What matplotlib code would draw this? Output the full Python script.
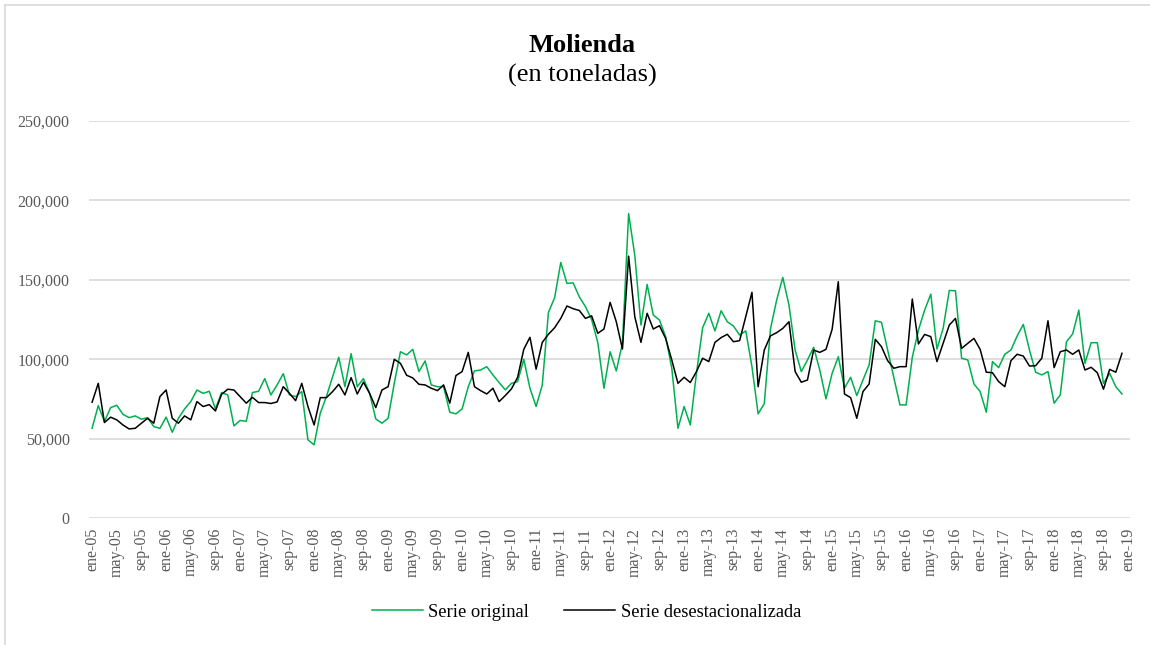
"""
Molienda (en toneladas): serie original vs. serie desestacionalizada,
datos mensuales ene-05 a dic-18.
"""

import numpy as np
import matplotlib.pyplot as plt
from matplotlib.lines import Line2D

plt.rcParams["font.family"] = ["Liberation Serif", "DejaVu Serif"]

# monthly values, thousands of tonnes, ene-05 ... dic-18
ORIGINAL = [
    56.5, 70.8, 60.7, 69.5, 71.0, 65.3, 63.2, 64.3, 62.2, 63.2, 57.6, 56.5,      # 2005
    63.5, 54.0, 62.8, 68.7, 73.3, 80.6, 78.5, 79.8, 68.7, 79.0, 77.5, 58.0,      # 2006
    61.4, 60.9, 79.0, 79.8, 87.8, 77.5, 83.8, 90.9, 77.5, 76.5, 79.6, 49.2,      # 2007
    46.1, 66.0, 76.5, 89.0, 101.2, 82.7, 103.5, 82.7, 87.8, 78.5, 62.4, 59.7,    # 2008
    62.8, 84.8, 104.7, 102.7, 106.2, 92.2, 98.9, 83.8, 82.7, 82.7, 66.6, 65.6,   # 2009
    68.7, 82.7, 92.6, 93.2, 95.3, 90.1, 85.3, 80.7, 84.8, 85.9, 99.9, 81.7,      # 2010
    70.2, 83.8, 129.5, 138.7, 160.9, 147.7, 148.1, 139.3, 133.1, 125.0, 110.5, 81.7,  # 2011
    104.7, 92.6, 110.0, 191.7, 165.5, 121.5, 147.1, 127.8, 124.7, 114.2, 94.3, 56.5,  # 2012
    70.2, 58.6, 91.1, 119.8, 128.9, 117.8, 130.5, 123.6, 120.9, 115.2, 117.8, 95.3,   # 2013
    65.6, 72.0, 119.0, 137.2, 151.5, 134.1, 105.8, 92.2, 99.5, 107.5, 93.2, 75.0,     # 2014
    91.1, 101.6, 81.7, 88.6, 77.1, 86.9, 96.4, 124.2, 123.2, 105.8, 88.6, 71.2,       # 2015
    71.2, 101.2, 118.4, 130.9, 141.0, 106.4, 119.4, 143.3, 143.1, 100.6, 99.5, 84.4,  # 2016
    79.6, 66.6, 98.5, 94.7, 103.1, 105.8, 114.6, 121.9, 105.8, 91.8, 90.1, 92.2,      # 2017
    72.3, 77.5, 111.0, 115.9, 130.9, 97.4, 110.4, 110.4, 84.8, 91.1, 82.7, 78.1,      # 2018
]

DESESTACIONALIZADA = [
    72.9, 84.8, 60.1, 63.5, 61.8, 58.6, 56.1, 56.5, 59.7, 62.8, 59.7, 76.5,      # 2005
    80.6, 62.8, 59.7, 64.3, 61.8, 73.3, 70.2, 71.4, 67.4, 77.9, 81.1, 80.6,      # 2006
    76.5, 72.3, 76.0, 72.7, 72.7, 72.1, 73.1, 82.7, 78.5, 73.9, 84.8, 70.2,      # 2007
    58.6, 75.8, 75.8, 79.6, 84.2, 77.5, 88.4, 78.1, 85.5, 78.5, 69.5, 80.6,      # 2008
    82.7, 99.9, 97.4, 89.9, 88.2, 84.2, 83.8, 81.7, 80.2, 83.8, 72.3, 89.7,      # 2009
    92.2, 104.3, 82.7, 80.2, 78.1, 81.7, 73.3, 77.1, 81.3, 88.6, 106.2, 113.8,   # 2010
    93.7, 110.6, 115.7, 119.8, 125.7, 133.5, 131.8, 130.7, 125.7, 127.3, 116.3, 119.0,  # 2011
    135.8, 123.6, 106.4, 164.9, 126.8, 110.6, 128.9, 119.0, 121.1, 113.1, 99.5, 84.8,   # 2012
    88.6, 85.3, 92.2, 100.6, 98.5, 110.6, 113.6, 115.7, 111.0, 111.7, 126.8, 142.1,     # 2013
    82.7, 105.8, 114.7, 116.7, 119.4, 123.6, 92.2, 85.5, 86.9, 105.8, 104.3, 106.2,     # 2014
    118.8, 148.8, 78.1, 75.8, 62.8, 79.6, 84.4, 112.5, 107.9, 99.1, 94.3, 95.3,         # 2015
    95.3, 137.9, 109.6, 115.6, 114.2, 98.5, 110.0, 121.5, 125.7, 106.8, 110.0, 113.1,   # 2016
    106.2, 91.8, 91.5, 85.9, 82.7, 99.1, 103.1, 102.0, 95.7, 95.9, 100.6, 124.2,        # 2017
    94.7, 104.7, 105.8, 103.1, 105.8, 93.2, 94.9, 91.5, 81.1, 93.6, 91.8, 103.7,        # 2018
]

TICK_MONTHS = ["ene", "may", "sep"]
YEARS = list(range(5, 20))
Y_TICKS = [0, 50000, 100000, 150000, 200000, 250000]

GREEN = "#00B050"
GRID = "#D9D9D9"
TXT = "#595959"


def plot_molienda():
    orig = np.array(ORIGINAL) * 1000
    desest = np.array(DESESTACIONALIZADA) * 1000
    x = np.arange(len(orig))

    fig = plt.figure(figsize=(11.5, 6.45), dpi=100)
    ax = fig.add_axes([0.0774, 0.1969, 0.9052, 0.6155])

    ax.plot(x, orig, color=GREEN, lw=1.1, label="Serie original", zorder=3)
    ax.plot(x, desest, color="black", lw=1.1, label="Serie desestacionalizada", zorder=4)

    # ticks every four months: ene, may, sep
    tick_labels = [f"{m}-{y:02d}" for y in YEARS for m in TICK_MONTHS][:-2]
    tick_pos = np.arange(len(tick_labels)) * 4
    ax.set_xticks(tick_pos)
    ax.set_xticklabels(tick_labels, rotation=90, fontsize=11.5, color=TXT)
    ax.set_xlim(-0.5, 168.3)

    ax.set_ylim(0, 250000)
    ax.set_yticks(Y_TICKS)
    ax.set_yticklabels([f"{v:,}" for v in Y_TICKS], fontsize=11.5, color=TXT)

    ax.tick_params(axis="both", length=0)
    ax.tick_params(axis="y", pad=14)
    ax.tick_params(axis="x", pad=7)
    ax.grid(axis="y", color=GRID, lw=1.2)
    ax.set_axisbelow(True)
    for s in ax.spines.values():
        s.set_visible(False)

    fig.text(0.506, 0.919, "Molienda", ha="center", va="baseline",
             fontsize=19, fontweight="bold")
    fig.text(0.506, 0.873, "(en toneladas)", ha="center", va="baseline", fontsize=19)

    fig.legend(loc="center", bbox_to_anchor=(0.51, 0.051), ncol=2, frameon=False,
               fontsize=13.3, handlelength=2.75, handletextpad=0.3, columnspacing=1.9)

    # chart area border (left and top visible)
    fig.add_artist(Line2D([5 / 1150, 5 / 1150], [0, 1 - 5 / 645], color=GRID, lw=1.2))
    fig.add_artist(Line2D([5 / 1150, 1], [1 - 5 / 645, 1 - 5 / 645], color=GRID, lw=1.2))

    fig.savefig("out.png", dpi=100)
    plt.close(fig)


if __name__ == "__main__":
    plot_molienda()
